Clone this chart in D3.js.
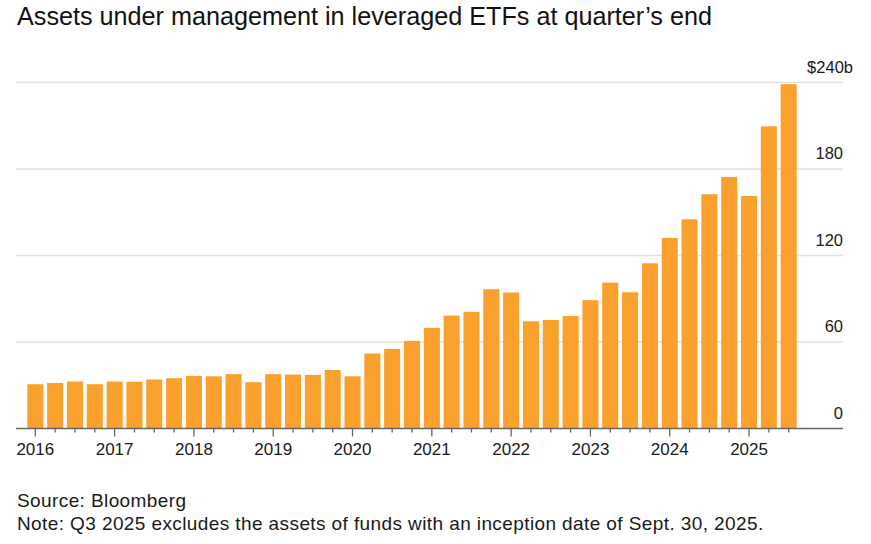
<!DOCTYPE html>
<html>
<head>
<meta charset="utf-8">
<script src="https://cdn.jsdelivr.net/npm/d3@7"></script>
<style>
    body { margin: 0; background: #fff; }
    text { font-family: "Liberation Sans", Arial, sans-serif; fill: #1a1a1a; }
</style>
</head>
<body>
<div id="chart"></div>
<script>
var years = ["2016", "2017", "2018", "2019", "2020", "2021", "2022", "2023", "2024", "2025"];
var quarters = ["Q1", "Q2", "Q3", "Q4"];

// $b at quarter end, Q1 2016 .. Q3 2025
var aum = [
    30.7, 31.6, 32.6, 30.7,
    32.6, 32.4, 34.0, 34.9,
    36.5, 36.2, 37.7, 32.1,
    37.7, 37.4, 37.2, 40.6,
    36.2, 52.0, 55.2, 60.8,
    69.8, 78.3, 80.9, 96.6,
    94.3, 74.4, 75.3, 78.1,
    89.0, 101.2, 94.5, 114.6,
    132.2, 145.1, 162.5, 174.5,
    161.3, 209.6, 238.8
];
var yTicks = [0, 60, 120, 180, 240];

var title = "Assets under management in leveraged ETFs at quarter\u2019s end";
var source = "Source: Bloomberg";
var note = "Note: Q3 2025 excludes the assets of funds with an inception date of Sept. 30, 2025.";

/**
 * build quarter keys like 2016Q1 for the band scale
 */
function quarterKeys() {
    var keys = new Array();
    for (var i = 0; i < aum.length; i++) {
        keys.push(years[Math.floor(i / 4)] + quarters[i % 4]);
    }
    return keys;
}

window.onload = function() {
    var fullWidth = 871;
    var fullHeight = 544;
    var gridLeft = 16;
    var gridRight = 843;
    var barColor = "#f9a12c";

    var keys = quarterKeys();
    var data = keys.map(function(k, i) {
        return { "key" : k, "value" : aum[i] };
    });

    var svg = d3.select("#chart").append("svg")
        .attr("width", fullWidth)
        .attr("height", fullHeight);

    var x = d3.scaleBand().domain(keys).range([25.4, 798.6]).paddingInner(0.19).paddingOuter(0.095);
    var y = d3.scaleLinear().domain([0, 240]).range([428.5, 82.5]);

    // title
    svg.append("text").attr("x", 17).attr("y", 25)
        .style("font-size", "25.2px").style("fill", "#111").text(title);

    // gridlines
    svg.selectAll(".grid").data(yTicks.filter(function(d) { return d > 0; })).enter().append("line")
        .attr("class", "grid")
        .attr("x1", gridLeft).attr("x2", gridRight)
        .attr("y1", function(d) { return y(d); })
        .attr("y2", function(d) { return y(d); })
        .style("stroke", "#e2e2e2").style("stroke-width", 1.6);

    // y labels, sitting above their gridline
    svg.selectAll(".yLabel").data(yTicks).enter().append("text")
        .attr("class", "yLabel")
        .attr("x", function(d) { return d == 240 ? 853 : gridRight; })
        .attr("y", function(d) { return y(d) - 10; })
        .style("text-anchor", "end").style("font-size", "16.5px")
        .text(function(d) { return d == 240 ? "$240b" : d; });

    // bars
    svg.selectAll(".bar").data(data).enter().append("rect")
        .attr("class", "bar")
        .attr("x", function(d) { return x(d.key); })
        .attr("y", function(d) { return y(d.value); })
        .attr("width", x.bandwidth())
        .attr("height", function(d) { return y(0) - y(d.value); })
        .style("fill", barColor);

    // x axis: baseline, quarter ticks, year labels
    var axis = d3.axisBottom(x)
        .tickSizeOuter(0)
        .tickSize(4)
        .tickFormat(function(d) { return d.slice(4) == "Q1" ? d.slice(0, 4) : ""; });
    var gx = svg.append("g").attr("transform", "translate(0," + y(0) + ")").call(axis);
    gx.select(".domain").attr("d", "M" + gridLeft + ",0H" + gridRight)
        .style("stroke", "#666").style("stroke-width", 1.6);
    gx.selectAll(".tick line").style("stroke", "#666").style("stroke-width", 1.3)
        .attr("y2", function(d) { return d.slice(4) == "Q1" ? 8 : 4; });
    gx.selectAll(".tick text").attr("y", 14)
        .style("font-family", "\"Liberation Sans\", Arial, sans-serif")
        .style("font-size", "17px").style("fill", "#1a1a1a");

    // footer
    svg.append("text").attr("x", 17).attr("y", 507).style("font-size", "19px")
        .style("letter-spacing", "0.4px").text(source);
    svg.append("text").attr("x", 17).attr("y", 530).style("font-size", "19px")
        .style("letter-spacing", "0.4px").text(note);
};
</script>
</body>
</html>
